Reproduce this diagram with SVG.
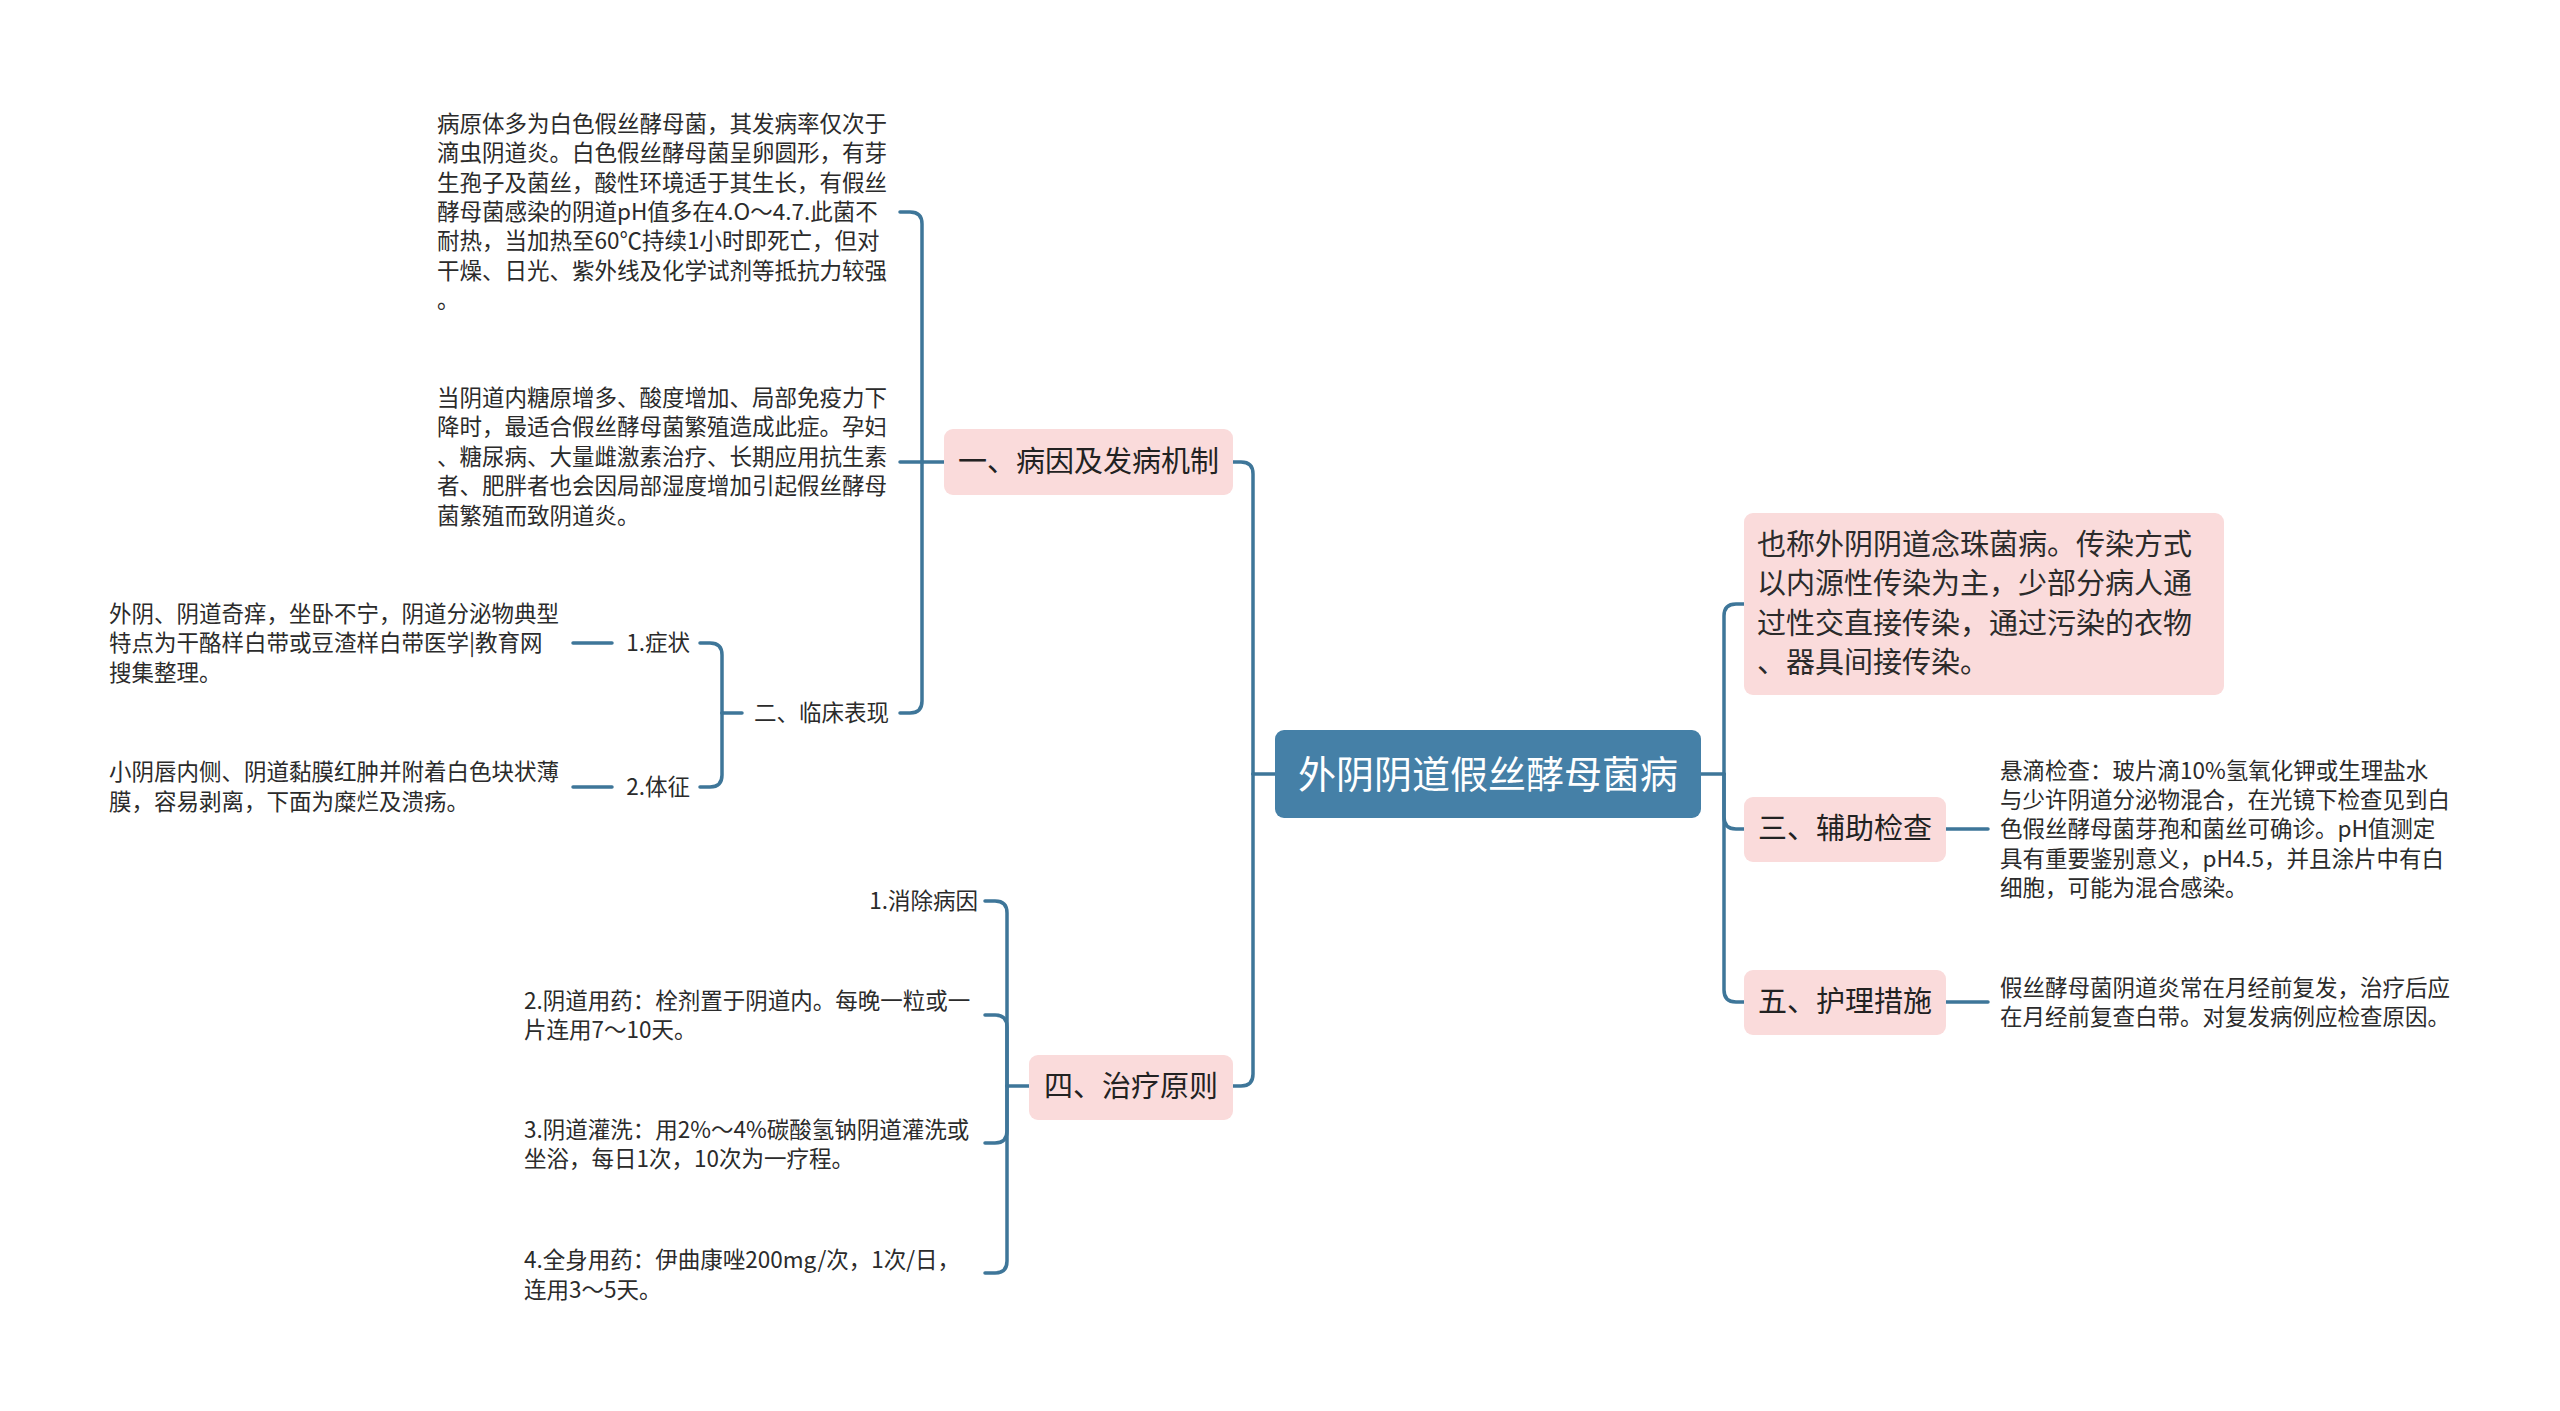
<svg xmlns="http://www.w3.org/2000/svg" width="2560" height="1411" viewBox="0 0 2560 1411">
<style>
.t{font-family:"Noto Sans CJK SC","Noto Sans",sans-serif;fill:#2b2b2b}
.leaf{font-size:22.5px}
.l1{font-size:29px;fill:#222}
.pink{fill:#fadbdb}
.conn{fill:none;stroke:#3e7699;stroke-width:3.5;stroke-linecap:round}
</style>
<rect width="2560" height="1411" fill="#ffffff"/>
<g id="connectors" class="conn">
<path d="M1701 774 H1724"/>
<path d="M1724 774 V616 Q1724 604 1736 604 H1744"/>
<path d="M1724 774 V817 Q1724 829 1736 829 H1744"/>
<path d="M1724 774 V990 Q1724 1002 1736 1002 H1744"/>
<path d="M1946 829 H1988"/>
<path d="M1946 1002 H1988"/>
<path d="M1275 774 H1253"/>
<path d="M1253 774 V474 Q1253 462 1241 462 H1233"/>
<path d="M1253 774 V1074 Q1253 1086 1241 1086 H1233"/>
<path d="M944 462 H922"/>
<path d="M922 462 V224 Q922 212 910 212 H900"/>
<path d="M922 462 H900"/>
<path d="M922 462 V701 Q922 713 910 713 H900"/>
<path d="M742 713 H722"/>
<path d="M722 713 V655 Q722 643 710 643 H700"/>
<path d="M722 713 V775 Q722 787 710 787 H700"/>
<path d="M612 643 H573"/>
<path d="M612 787 H573"/>
<path d="M1029 1086 H1007"/>
<path d="M1007 1086 V913 Q1007 901 995 901 H985"/>
<path d="M1007 1086 V1027 Q1007 1015 995 1015 H985"/>
<path d="M1007 1086 V1131 Q1007 1143 995 1143 H985"/>
<path d="M1007 1086 V1261 Q1007 1273 995 1273 H985"/>
</g>
<g id="root">
<rect x="1275" y="730" width="426" height="88" rx="9" fill="#4580a7"/>
<text class="t" x="1488" y="788" font-size="38" fill="#ffffff" style="fill:#ffffff" text-anchor="middle">外阴阴道假丝酵母菌病</text>
</g>
<g id="n-definition">
<rect class="pink" x="1744" y="513" width="480" height="182" rx="9"/>
<text class="t" font-size="29">
<tspan x="1757" y="555">也称外阴阴道念珠菌病。传染方式</tspan>
<tspan x="1757" y="594">以内源性传染为主，少部分病人通</tspan>
<tspan x="1757" y="634">过性交直接传染，通过污染的衣物</tspan>
<tspan x="1757" y="673">、器具间接传染。</tspan>
</text>
</g>
<g id="n-exam">
<rect class="pink" x="1744" y="797" width="202" height="65" rx="9"/>
<text class="t l1" x="1845" y="839" text-anchor="middle">三、辅助检查</text>
</g>
<g id="n-exam-text">
<text class="t leaf">
<tspan x="2000" y="779">悬滴检查：玻片滴10%氢氧化钾或生理盐水</tspan>
<tspan x="2000" y="808">与少许阴道分泌物混合，在光镜下检查见到白</tspan>
<tspan x="2000" y="837">色假丝酵母菌芽孢和菌丝可确诊。pH值测定</tspan>
<tspan x="2000" y="867">具有重要鉴别意义，pH4.5，并且涂片中有白</tspan>
<tspan x="2000" y="896">细胞，可能为混合感染。</tspan>
</text>
</g>
<g id="n-care">
<rect class="pink" x="1744" y="970" width="202" height="65" rx="9"/>
<text class="t l1" x="1845" y="1012" text-anchor="middle">五、护理措施</text>
</g>
<g id="n-care-text">
<text class="t leaf">
<tspan x="2000" y="996">假丝酵母菌阴道炎常在月经前复发，治疗后应</tspan>
<tspan x="2000" y="1025">在月经前复查白带。对复发病例应检查原因。</tspan>
</text>
</g>
<g id="n-cause">
<rect class="pink" x="944" y="429" width="289" height="66" rx="9"/>
<text class="t l1" x="1088.5" y="472" text-anchor="middle">一、病因及发病机制</text>
</g>
<g id="n-cause-text1">
<text class="t leaf">
<tspan x="437" y="132">病原体多为白色假丝酵母菌，其发病率仅次于</tspan>
<tspan x="437" y="161">滴虫阴道炎。白色假丝酵母菌呈卵圆形，有芽</tspan>
<tspan x="437" y="191">生孢子及菌丝，酸性环境适于其生长，有假丝</tspan>
<tspan x="437" y="220">酵母菌感染的阴道pH值多在4.O～4.7.此菌不</tspan>
<tspan x="437" y="249">耐热，当加热至60℃持续1小时即死亡，但对</tspan>
<tspan x="437" y="279">干燥、日光、紫外线及化学试剂等抵抗力较强</tspan>
<tspan x="437" y="308">。</tspan>
</text>
</g>
<g id="n-cause-text2">
<text class="t leaf">
<tspan x="437" y="406">当阴道内糖原增多、酸度增加、局部免疫力下</tspan>
<tspan x="437" y="435">降时，最适合假丝酵母菌繁殖造成此症。孕妇</tspan>
<tspan x="437" y="465">、糖尿病、大量雌激素治疗、长期应用抗生素</tspan>
<tspan x="437" y="494">者、肥胖者也会因局部湿度增加引起假丝酵母</tspan>
<tspan x="437" y="524">菌繁殖而致阴道炎。</tspan>
</text>
</g>
<g id="n-clinical">
<text class="t leaf" x="754" y="721">二、临床表现</text>
</g>
<g id="n-symptom">
<text class="t leaf" x="690" y="651" text-anchor="end">1.症状</text>
</g>
<g id="n-symptom-text">
<text class="t leaf">
<tspan x="109" y="622">外阴、阴道奇痒，坐卧不宁，阴道分泌物典型</tspan>
<tspan x="109" y="651">特点为干酪样白带或豆渣样白带医学|教育网</tspan>
<tspan x="109" y="681">搜集整理。</tspan>
</text>
</g>
<g id="n-sign">
<text class="t leaf" x="690" y="795" text-anchor="end">2.体征</text>
</g>
<g id="n-sign-text">
<text class="t leaf">
<tspan x="109" y="780">小阴唇内侧、阴道黏膜红肿并附着白色块状薄</tspan>
<tspan x="109" y="810">膜，容易剥离，下面为糜烂及溃疡。</tspan>
</text>
</g>
<g id="n-treat">
<rect class="pink" x="1029" y="1055" width="204" height="65" rx="9"/>
<text class="t l1" x="1131" y="1097" text-anchor="middle">四、治疗原则</text>
</g>
<g id="n-treat-1">
<text class="t leaf" x="978" y="909" text-anchor="end">1.消除病因</text>
</g>
<g id="n-treat-2">
<text class="t leaf">
<tspan x="524" y="1009">2.阴道用药：栓剂置于阴道内。每晚一粒或一</tspan>
<tspan x="524" y="1038">片连用7～10天。</tspan>
</text>
</g>
<g id="n-treat-3">
<text class="t leaf">
<tspan x="524" y="1138">3.阴道灌洗：用2%～4%碳酸氢钠阴道灌洗或</tspan>
<tspan x="524" y="1167">坐浴，每日1次，10次为一疗程。</tspan>
</text>
</g>
<g id="n-treat-4">
<text class="t leaf">
<tspan x="524" y="1268">4.全身用药：伊曲康唑200mg/次，1次/日，</tspan>
<tspan x="524" y="1298">连用3～5天。</tspan>
</text>
</g>
</svg>
